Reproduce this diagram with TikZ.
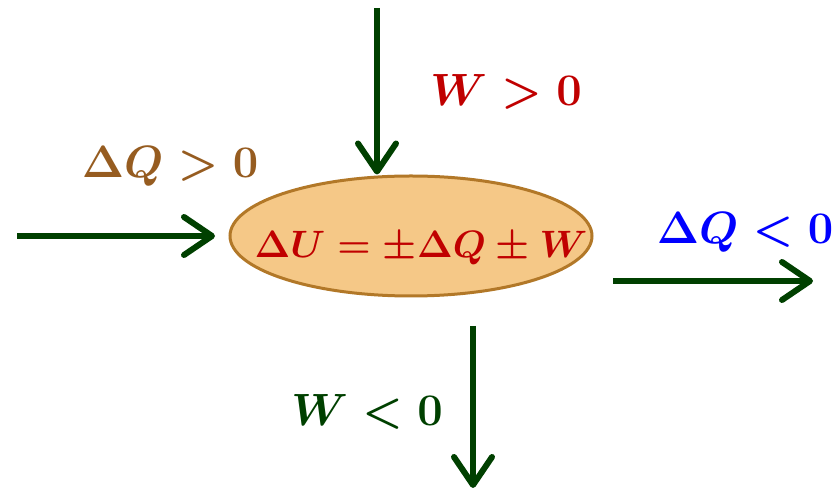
\documentclass[tikz,border=0pt]{standalone}
\usepackage{amsmath}
\usepackage{graphicx}
\usepackage{tikz}
\usetikzlibrary{arrows.meta, shapes.geometric}
\definecolor{leaf}{RGB}{0,64,0}
\definecolor{crimson}{RGB}{192,0,0}
\definecolor{umber}{RGB}{150,92,32}
\definecolor{cobalt}{RGB}{0,0,255}
\definecolor{sand}{RGB}{245,200,135}
\definecolor{rim}{RGB}{178,120,40}
\newcommand{\bigmath}[2]{\scalebox{#1}{$#2$}}

\begin{document}
\begin{tikzpicture}[x=0.5pt, y=-0.5pt,
                    f/.style={leaf, line width=3pt, -{Straight Barb[round, length=14pt, width=19pt]}},
                    lab/.style={font=\fontsize{20.74}{25}\selectfont\boldmath, inner sep=0pt}]
  \useasboundingbox (0,0) rectangle (834,490);
  \node[ellipse, draw=rim, fill=sand, line width=1.5pt, minimum width=181pt, minimum height=60pt,
        inner sep=0pt,
        label={[lab, text=crimson, xshift=5pt, yshift=-6pt]center:\bigmath{0.92}{\Delta U = \pm\Delta Q \pm W}}]
        (ell) at (411,236) {};
  % incoming and outgoing flows
  \coordinate (t0) at (377,8);
  \coordinate (l0) at (17,236);   \coordinate (l1) at (215,236);
  \coordinate (r0) at (613,281);  \coordinate (r1) at (813,281);
  \coordinate (b0) at (473,326);  \coordinate (b1) at (473,488);
  \draw[f] (t0) -- (t0 |- ell.north);
  \draw[f] (l0) -- (l1);
  \draw[f] (r0) -- (r1);
  \draw[f] (b0) -- (b1);
  \node[lab, text=crimson] (wpos) at (506,92) {\bigmath{1.09}{W > 0}};
  \node[lab, text=umber] (qpos) at (170,166) {\bigmath{1.09}{\Delta Q > 0}};
  \node[lab, text=cobalt] (qneg) at (745,232) {\bigmath{1.09}{\Delta Q < 0}};
  \node[lab, text=leaf] (wneg) at (367,412) {\bigmath{1.09}{W < 0}};
\end{tikzpicture}
\end{document}
